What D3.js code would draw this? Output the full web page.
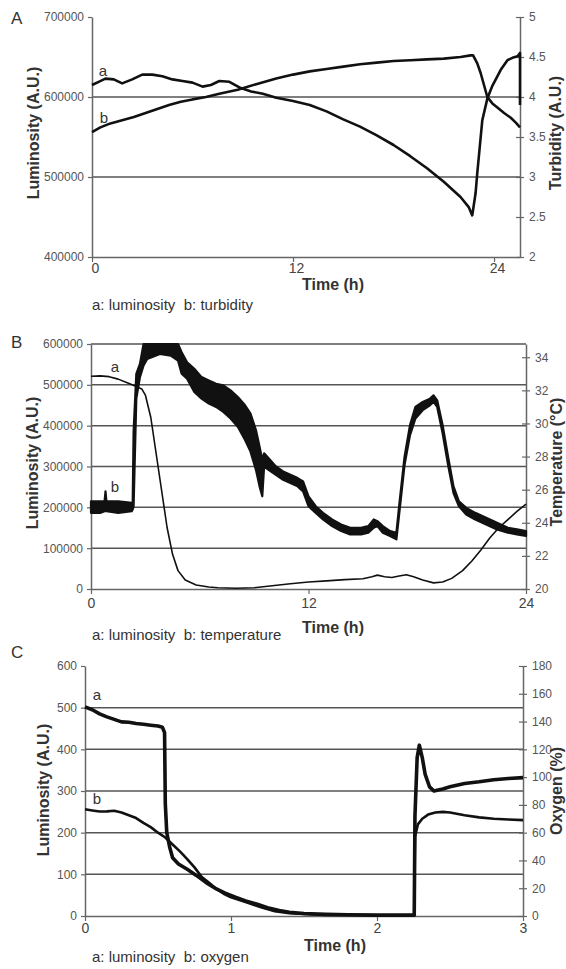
<!DOCTYPE html>
<html>
<head>
<meta charset="utf-8">
<script src="https://cdn.jsdelivr.net/npm/d3@7"></script>
<style>
  body { margin: 0; background: #fff; }
  svg text { font-family: "Liberation Sans", Arial, sans-serif; }
</style>
</head>
<body>
<div id="chart"></div>
<script>
// ---- panel A : luminosity (left) and turbidity (right) vs time (h) ----
var lumA = [[0,615000],[0.4,619000],[0.8,623000],[1.3,622000],[1.8,617000],[2.4,622000],[3.0,628000],
  [3.6,628000],[4.2,626000],[4.8,622000],[5.4,620000],[6.0,618000],[6.6,613000],[7.1,615000],[7.6,620000],
  [8.2,619000],[8.8,612000],[9.5,607000],[10.2,604000],[11.0,599000],[12.0,595000],[13.0,590000],
  [14.0,582000],[15.0,572000],[16.0,563000],[17.0,552000],[18.0,540000],[19.0,526000],[20.0,511000],
  [21.0,494000],[22.0,475000],[22.5,462000],[22.7,452000],[22.9,480000],[23.0,505000],[23.3,571000],
  [23.6,598000],[23.9,614000],[24.4,634000],[24.8,646000],[25.1,649000],[25.4,651000],[25.55,655000],
  [25.55,590000]];
var turbA = [[0,3.56],[0.5,3.62],[1.1,3.67],[1.8,3.71],[2.5,3.75],[3.2,3.80],[3.9,3.85],[4.6,3.90],
  [5.3,3.94],[6.0,3.97],[6.8,4.0],[7.6,4.04],[8.7,4.09],[9.8,4.16],[11.0,4.23],[12.0,4.28],[13.0,4.32],
  [14.0,4.35],[15.0,4.38],[16.0,4.41],[17.0,4.43],[18.0,4.45],[19.0,4.46],[20.0,4.47],[21.0,4.48],
  [22.0,4.50],[22.6,4.52],[22.75,4.52],[23.0,4.42],[23.2,4.30],[23.6,4.0],[23.9,3.92],[24.2,3.87],
  [24.6,3.80],[25.0,3.74],[25.3,3.68],[25.55,3.62]];
var xTicksA = [0, 12, 24];
var yTicksA = [400000, 500000, 600000, 700000];
var y2TicksA = [2, 2.5, 3, 3.5, 4, 4.5, 5];
var gridA = [500000, 600000];

// ---- panel B : luminosity (left) and temperature (right) ----
var lumB = [[0,521000],[0.5,522000],[1.0,520000],[1.5,514000],[2.0,505000],[2.5,496000],[2.8,490000],
  [3.0,475000],[3.3,420000],[3.6,330000],[3.9,240000],[4.2,150000],[4.5,85000],[4.8,45000],[5.2,22000],
  [5.8,10000],[6.5,5000],[7.0,3000],[8.0,2000],[9.0,3000],[10.0,8000],[11.0,13000],[12.0,17000],
  [13.0,20000],[14.0,23000],[15.0,25000],[15.5,30000],[15.8,34000],[16.2,30000],[16.6,28000],
  [17.0,32000],[17.4,35000],[17.8,30000],[18.3,22000],[18.9,15000],[19.4,17000],[19.9,26000],
  [20.5,45000],[21.0,68000],[21.5,95000],[22.0,125000],[22.5,150000],[23.0,170000],[23.5,190000],
  [24.0,208000]];
// temperature trace is very noisy: [time, lower edge, upper edge]
var tempB = [[0,24.6,25.3],[0.5,24.6,25.3],[0.75,24.7,25.3],[0.8,24.7,25.9],[0.85,24.7,25.3],
  [1.5,24.6,25.3],[2.25,24.7,25.2],[2.3,24.8,25.2],[2.35,25.0,29.5],[2.5,31.5,33.0],[2.7,32.8,33.6],
  [2.9,33.5,34.8],[3.1,33.9,34.8],[3.8,34.2,34.8],[4.4,34.1,34.8],[4.8,33.8,34.8],[5.0,33.0,34.3],
  [5.3,32.7,33.7],[5.7,31.9,33.3],[6.1,31.5,32.8],[6.5,31.2,32.6],[6.9,31.0,32.4],[7.3,30.7,32.3],
  [7.7,30.3,32.0],[8.1,29.8,31.6],[8.5,29.0,31.1],[8.8,28.3,30.6],[9.1,27.2,29.6],[9.3,26.2,28.6],
  [9.45,25.6,27.8],[9.55,27.4,28.2],[9.8,27.2,27.9],[10.2,26.9,27.4],[10.6,26.6,27.1],[11.0,26.4,26.9],
  [11.4,26.2,26.7],[11.7,25.9,26.5],[12.0,25.0,25.6],[12.4,24.6,25.0],[12.8,24.2,24.6],[13.3,23.8,24.2],
  [13.8,23.5,23.9],[14.3,23.3,23.7],[14.9,23.3,23.7],[15.3,23.4,23.8],[15.6,23.7,24.2],[15.8,23.8,24.1],
  [16.1,23.4,23.8],[16.5,23.2,23.5],[16.85,23.0,23.4],[17.0,24.5,25.0],[17.3,27.5,28.0],[17.6,29.3,29.9],
  [17.9,30.3,31.0],[18.3,30.8,31.3],[18.7,31.1,31.5],[18.9,31.3,31.7],[19.1,31.0,31.4],[19.4,29.4,29.9],
  [19.7,27.5,28.0],[20.0,25.8,26.2],[20.3,25.0,25.3],[20.7,24.5,24.9],[21.2,24.2,24.6],[21.8,23.9,24.3],
  [22.4,23.6,24.0],[23.0,23.4,23.7],[23.5,23.3,23.6],[24.0,23.2,23.5]];
var xTicksB = [0, 12, 24];
var yTicksB = [0, 100000, 200000, 300000, 400000, 500000, 600000];
var y2TicksB = [20, 22, 24, 26, 28, 30, 32, 34];
var gridB = [100000, 200000, 300000, 400000, 500000, 600000];

// ---- panel C : luminosity (left) and oxygen (right) ----
var lumC = [[0,502],[0.05,495],[0.1,485],[0.15,478],[0.2,472],[0.25,466],[0.3,465],[0.35,462],[0.4,460],
  [0.45,458],[0.5,456],[0.53,453],[0.545,440],[0.55,270],[0.56,200],[0.58,165],[0.6,140],[0.64,125],
  [0.7,112],[0.76,98],[0.83,80],[0.9,65],[0.96,55],[1.03,45],[1.1,36],[1.18,28],[1.25,20],[1.33,13],
  [1.4,9],[1.5,6],[1.65,4],[1.8,3],[2.0,2],[2.2,2],[2.255,2],[2.26,240],[2.275,380],[2.29,410],
  [2.31,380],[2.33,340],[2.36,310],[2.39,300],[2.45,305],[2.5,310],[2.6,318],[2.7,322],[2.8,327],
  [2.9,330],[3.0,332]];
var oxyC = [[0,76.8],[0.05,76],[0.1,75.2],[0.15,75.3],[0.2,75.8],[0.25,74.5],[0.3,72.5],[0.35,70.5],
  [0.4,67],[0.45,64],[0.5,60],[0.55,56.5],[0.6,51.5],[0.65,46.5],[0.7,41],[0.75,35],[0.8,28],[0.85,24],
  [0.9,19.5],[0.95,16],[1.0,13.5],[1.1,10],[1.2,6.5],[1.3,3.5],[1.4,2],[1.6,1],[2.0,0.5],[2.255,0.5],
  [2.26,57],[2.28,66],[2.31,70],[2.35,73],[2.4,74.5],[2.45,75],[2.5,74.5],[2.6,72.5],[2.7,71],[2.8,70],
  [2.9,69.5],[3.0,69]];
var xTicksC = [0, 1, 2, 3];
var yTicksC = [0, 100, 200, 300, 400, 500, 600];
var y2TicksC = [0, 20, 40, 60, 80, 100, 120, 140, 160, 180];
var gridC = [100, 200, 300, 400, 500];


var svg = d3.select("#chart")
  .append("svg")
    .attr("width", 566)
    .attr("height", 969);

var plain = function(d) { return String(d); };

// draws grid, the three axes and the titles of one panel
function drawPanel(p) {
  var g = svg.append("g");
  var x0 = p.x.range()[0], x1 = p.x.range()[1], yb = p.y.range()[0];

  g.selectAll("line.grid")
    .data(p.grid)
    .enter().append("line")
      .attr("class", "grid")
      .attr("x1", x0).attr("x2", x1)
      .attr("y1", function(d) { return p.y(d); })
      .attr("y2", function(d) { return p.y(d); })
      .attr("stroke", "#555")
      .attr("stroke-width", 1.5);

  var left = g.append("g")
    .attr("transform", "translate(" + x0 + ",0)")
    .call(d3.axisLeft(p.y).tickValues(p.yTicks).tickSizeInner(4).tickSizeOuter(0)
      .tickPadding(4).tickFormat(plain));

  var right = g.append("g")
    .attr("transform", "translate(" + x1 + ",0)")
    .call(d3.axisRight(p.y2).tickValues(p.y2Ticks).tickSizeInner(4).tickSizeOuter(0)
      .tickPadding(5).tickFormat(plain));
  right.selectAll(".tick line").attr("x1", -4);

  var bottom = g.append("g")
    .attr("transform", "translate(0," + yb + ")")
    .call(d3.axisBottom(p.x).tickValues(p.xTicks).tickSizeInner(5).tickSizeOuter(0)
      .tickPadding(p.xPad).tickFormat(plain));

  [left, right, bottom].forEach(function(a) {
    a.select(".domain").attr("stroke", "#666").attr("stroke-width", 1.5);
    a.selectAll(".tick line").attr("stroke", "#666").attr("stroke-width", 1.2);
    a.selectAll("text").attr("fill", "#555").style("font-size", "12px");
  });
  bottom.selectAll("text").attr("fill", "#444").style("font-size", "14px").attr("dx", p.xDx);

  // axis titles
  g.append("text")
    .attr("transform", "translate(" + p.leftTitle[0] + "," + p.leftTitle[1] + ") rotate(-90)")
    .attr("text-anchor", "middle").attr("dy", "0.35em")
    .attr("font-size", "16px").attr("font-weight", "bold").attr("fill", "#333")
    .text("Luminosity (A.U.)");
  g.append("text")
    .attr("transform", "translate(" + p.rightTitle[0] + "," + p.rightTitle[1] + ") rotate(-90)")
    .attr("text-anchor", "middle").attr("dy", "0.35em")
    .attr("font-size", "16px").attr("font-weight", "bold").attr("fill", "#333")
    .text(p.rightLabel);
  g.append("text")
    .attr("x", p.timeTitle[0]).attr("y", p.timeTitle[1])
    .attr("text-anchor", "middle")
    .attr("font-size", "16px").attr("font-weight", "bold").attr("fill", "#333")
    .text("Time (h)");

  // legend line under the panel
  g.append("text")
    .attr("x", 92).attr("y", p.legendY)
    .attr("font-size", "15px").attr("fill", "#333")
    .text("a: luminosity\u00a0\u00a0b: " + p.bName);

  // panel letter
  g.append("text")
    .attr("x", 11).attr("y", p.letterY)
    .attr("font-size", "17px").attr("fill", "#333")
    .text(p.letter);

  // series labels a and b
  g.selectAll("text.serie")
    .data(p.serieLabels)
    .enter().append("text")
      .attr("class", "serie")
      .attr("x", function(d) { return d[1]; })
      .attr("y", function(d) { return d[2]; })
      .attr("text-anchor", "middle")
      .attr("font-size", "15px").attr("fill", "#333")
      .text(function(d) { return d[0]; });

  return g;
}

function addLine(g, data, x, y, w) {
  g.append("path")
    .datum(data)
    .attr("fill", "none")
    .attr("stroke", "#111")
    .attr("stroke-width", w)
    .attr("stroke-linejoin", "round")
    .attr("d", d3.line()
      .x(function(d) { return x(d[0]); })
      .y(function(d) { return y(d[1]); }));
}

// Panel A
var xA = d3.scaleLinear().domain([0, 25.55]).range([92, 520]);
var yA = d3.scaleLinear().domain([400000, 700000]).range([257, 17]);
var yA2 = d3.scaleLinear().domain([2, 5]).range([257, 17]);
var gA = drawPanel({x: xA, y: yA, y2: yA2, grid: gridA, xTicks: xTicksA, yTicks: yTicksA,
  y2Ticks: y2TicksA, xPad: 1, xDx: 3, leftTitle: [33, 133], rightTitle: [555, 133],
  rightLabel: "Turbidity (A.U.)", timeTitle: [333, 290], legendY: 310, bName: "turbidity",
  letter: "A", letterY: 24, serieLabels: [["a", 103, 76], ["b", 104, 123]]});
addLine(gA, lumA, xA, yA, 2.6);
addLine(gA, turbA, xA, yA2, 2.6);

// Panel B
var xB = d3.scaleLinear().domain([0, 24]).range([91, 526]);
var yB = d3.scaleLinear().domain([0, 600000]).range([589, 344]);
var yB2 = d3.scaleLinear().domain([20, 34.8]).range([589, 344]);
var gB = drawPanel({x: xB, y: yB, y2: yB2, grid: gridB, xTicks: xTicksB, yTicks: yTicksB,
  y2Ticks: y2TicksB, xPad: 4, xDx: 0, leftTitle: [32, 463], rightTitle: [556, 462],
  rightLabel: "Temperature (°C)", timeTitle: [333, 633], legendY: 640, bName: "temperature",
  letter: "B", letterY: 348, serieLabels: [["a", 115, 372], ["b", 115, 492]]});
gB.append("path")
  .datum(tempB)
  .attr("fill", "#111")
  .attr("stroke", "#111")
  .attr("stroke-width", 2.2)
  .attr("stroke-linejoin", "round")
  .attr("d", d3.area()
    .x(function(d) { return xB(d[0]); })
    .y0(function(d) { return yB2(d[1]); })
    .y1(function(d) { return yB2(d[2]); }));
addLine(gB, lumB, xB, yB, 1.6);

// Panel C
var xC = d3.scaleLinear().domain([0, 3]).range([85, 523]);
var yC = d3.scaleLinear().domain([0, 600]).range([916, 666]);
var yC2 = d3.scaleLinear().domain([0, 180]).range([916, 666]);
var gC = drawPanel({x: xC, y: yC, y2: yC2, grid: gridC, xTicks: xTicksC, yTicks: yTicksC,
  y2Ticks: y2TicksC, xPad: 2, xDx: 0, leftTitle: [43, 790], rightTitle: [556, 791],
  rightLabel: "Oxygen (%)", timeTitle: [335, 951], legendY: 962, bName: "oxygen",
  letter: "C", letterY: 658, serieLabels: [["a", 97, 700], ["b", 97, 804]]});
addLine(gC, oxyC, xC, yC2, 2.6);
addLine(gC, lumC, xC, yC, 3.6);
</script>
</body>
</html>
